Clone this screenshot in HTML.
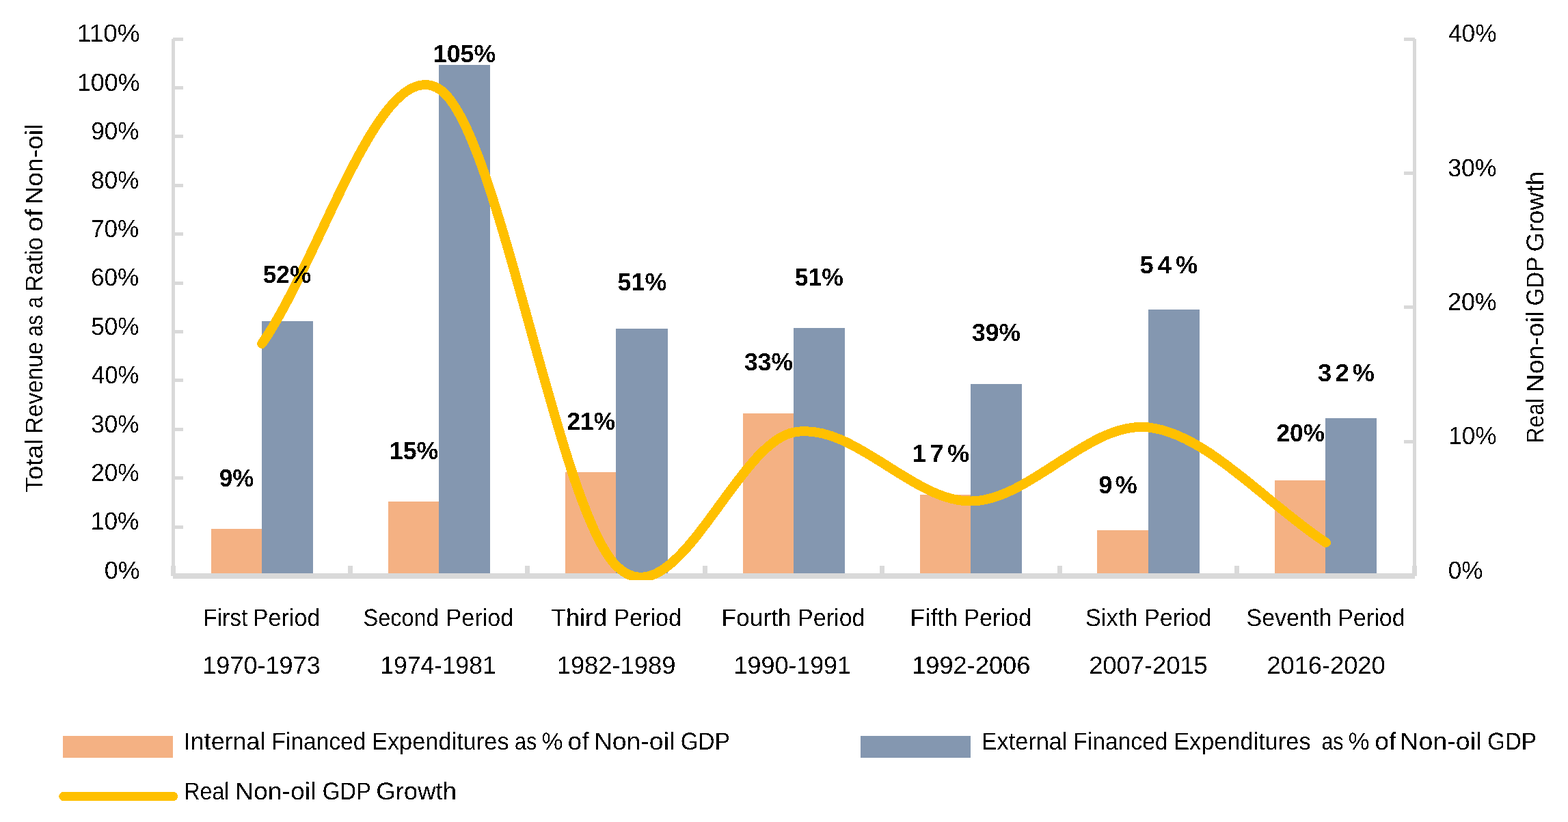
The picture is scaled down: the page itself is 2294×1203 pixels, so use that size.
<!DOCTYPE html>
<html lang="en"><head><meta charset="utf-8"><title>Financed Expenditures and Real Non-oil GDP Growth</title>
<style>
html,body{margin:0;padding:0;background:#fff;}
body{width:2294px;height:1203px;overflow:hidden;}
svg{display:block;}
text{font-family:"Liberation Sans", sans-serif;fill:#000;white-space:pre;text-rendering:geometricPrecision;}
.n{font-size:36.3px;}
.b{font-size:36.3px;font-weight:bold;}
.t{font-size:35.6px;}
</style></head><body>
<svg width="2294" height="1203" viewBox="0 0 2294 1203">
<rect width="2294" height="1203" fill="#fff"/>
<g shape-rendering="crispEdges">
<rect x="309" y="774" width="74" height="69" fill="#F4B183"/>
<rect x="383" y="470" width="75" height="373" fill="#8497B0"/>
<rect x="568" y="734" width="74" height="109" fill="#F4B183"/>
<rect x="642" y="95" width="75" height="748" fill="#8497B0"/>
<rect x="827" y="691" width="74" height="152" fill="#F4B183"/>
<rect x="901" y="481" width="76" height="362" fill="#8497B0"/>
<rect x="1087" y="605" width="74" height="238" fill="#F4B183"/>
<rect x="1161" y="480" width="75" height="363" fill="#8497B0"/>
<rect x="1346" y="724" width="74" height="119" fill="#F4B183"/>
<rect x="1420" y="562" width="75" height="281" fill="#8497B0"/>
<rect x="1605" y="776" width="75" height="67" fill="#F4B183"/>
<rect x="1680" y="453" width="75" height="390" fill="#8497B0"/>
<rect x="1865" y="703" width="74" height="140" fill="#F4B183"/>
<rect x="1939" y="612" width="75" height="231" fill="#8497B0"/>
</g>
<g fill="#D9D9D9" shape-rendering="crispEdges">
<rect x="251" y="57" width="5" height="786"/>
<rect x="253" y="840" width="15" height="5"/>
<rect x="253" y="769" width="15" height="5"/>
<rect x="253" y="697" width="15" height="5"/>
<rect x="253" y="626" width="15" height="5"/>
<rect x="253" y="554" width="15" height="5"/>
<rect x="253" y="483" width="15" height="5"/>
<rect x="253" y="412" width="15" height="5"/>
<rect x="253" y="340" width="15" height="5"/>
<rect x="253" y="269" width="15" height="5"/>
<rect x="253" y="197" width="15" height="5"/>
<rect x="253" y="126" width="15" height="5"/>
<rect x="253" y="55" width="15" height="5"/>
<rect x="2067" y="57" width="5" height="786"/>
<rect x="2054" y="840" width="16" height="5"/>
<rect x="2054" y="644" width="16" height="5"/>
<rect x="2054" y="447" width="16" height="5"/>
<rect x="2054" y="251" width="16" height="5"/>
<rect x="2054" y="55" width="16" height="5"/>
<rect x="253" y="839" width="1817" height="8"/>
<rect x="250" y="828" width="7" height="15"/>
<rect x="509" y="828" width="7" height="15"/>
<rect x="768" y="828" width="7" height="15"/>
<rect x="1028" y="828" width="7" height="15"/>
<rect x="1287" y="828" width="7" height="15"/>
<rect x="1547" y="828" width="7" height="15"/>
<rect x="1806" y="828" width="7" height="15"/>
<rect x="2066" y="828" width="7" height="15"/>
</g>
<clipPath id="plotclip"><rect x="0" y="0" width="2294" height="849"/></clipPath>
<path d="M383.2,503.0 C469.7,378.8 556.2,76.2 642.7,130.4 C729.2,184.7 815.6,744.8 902.1,828.5 C988.6,912.2 1075.1,648.4 1161.6,632.6 C1248.1,616.8 1334.5,734.7 1421.0,733.5 C1507.5,732.3 1594.0,615.4 1680.5,625.5 C1767.0,635.6 1853.5,737.9 1940.0,794.1" fill="none" stroke="#FFC000" stroke-width="14" stroke-linecap="round" stroke-linejoin="round" shape-rendering="crispEdges" clip-path="url(#plotclip)"/>
<g shape-rendering="crispEdges">
<rect x="92" y="1077" width="161" height="32" fill="#F4B183"/>
<rect x="1259" y="1077" width="161" height="32" fill="#8497B0"/>
</g>
<line x1="93" y1="1165.5" x2="253.4" y2="1165.5" stroke="#FFC000" stroke-width="13.4" stroke-linecap="round" shape-rendering="crispEdges"/>
<filter id="hard" filterUnits="userSpaceOnUse" x="0" y="0" width="2294" height="1203" color-interpolation-filters="sRGB"><feComponentTransfer><feFuncA type="discrete" tableValues="0 1"/></feComponentTransfer></filter>
<g filter="url(#hard)">
<text class="n" x="152.8" y="847" textLength="51.8" lengthAdjust="spacingAndGlyphs">0%</text>
<text class="n" x="132.8" y="775" textLength="70.7" lengthAdjust="spacingAndGlyphs">10%</text>
<text class="n" x="133.2" y="704" textLength="70.4" lengthAdjust="spacingAndGlyphs">20%</text>
<text class="n" x="133.3" y="633" textLength="70.1" lengthAdjust="spacingAndGlyphs">30%</text>
<text class="n" x="134.1" y="561" textLength="69.3" lengthAdjust="spacingAndGlyphs">40%</text>
<text class="n" x="133.2" y="490" textLength="70.1" lengthAdjust="spacingAndGlyphs">50%</text>
<text class="n" x="133.0" y="418" textLength="70.3" lengthAdjust="spacingAndGlyphs">60%</text>
<text class="n" x="133.0" y="347" textLength="70.3" lengthAdjust="spacingAndGlyphs">70%</text>
<text class="n" x="133.3" y="276" textLength="70.0" lengthAdjust="spacingAndGlyphs">80%</text>
<text class="n" x="133.2" y="204" textLength="70.2" lengthAdjust="spacingAndGlyphs">90%</text>
<text class="n" x="112.9" y="133" textLength="91.7" lengthAdjust="spacingAndGlyphs">100%</text>
<text class="n" x="112.8" y="61" textLength="91.9" lengthAdjust="spacingAndGlyphs">110%</text>
<text class="n" x="2118.7" y="847" textLength="50.7" lengthAdjust="spacingAndGlyphs">0%</text>
<text class="n" x="2119.3" y="650" textLength="70.3" lengthAdjust="spacingAndGlyphs">10%</text>
<text class="n" x="2118.0" y="454" textLength="71.7" lengthAdjust="spacingAndGlyphs">20%</text>
<text class="n" x="2118.2" y="258" textLength="71.4" lengthAdjust="spacingAndGlyphs">30%</text>
<text class="n" x="2119.0" y="61" textLength="70.6" lengthAdjust="spacingAndGlyphs">40%</text>
<text class="t" y="916"><tspan x="297.2" textLength="65.2" lengthAdjust="spacingAndGlyphs">First</tspan> <tspan x="369.8" textLength="98.6" lengthAdjust="spacingAndGlyphs">Period</tspan></text>
<text class="n" x="296.3" y="986" textLength="172.4" lengthAdjust="spacingAndGlyphs">1970-1973</text>
<text class="t" y="916"><tspan x="531.6" textLength="110.1" lengthAdjust="spacingAndGlyphs">Second</tspan> <tspan x="652.6" textLength="98.7" lengthAdjust="spacingAndGlyphs">Period</tspan></text>
<text class="n" x="556.4" y="986" textLength="169.3" lengthAdjust="spacingAndGlyphs">1974-1981</text>
<text class="t" y="916"><tspan x="806.2" textLength="81.8" lengthAdjust="spacingAndGlyphs">Third</tspan> <tspan x="898.3" textLength="98.7" lengthAdjust="spacingAndGlyphs">Period</tspan></text>
<text class="n" x="814.7" y="986" textLength="173.7" lengthAdjust="spacingAndGlyphs">1982-1989</text>
<text class="t" y="916"><tspan x="1055.4" textLength="102.3" lengthAdjust="spacingAndGlyphs">Fourth</tspan> <tspan x="1167.1" textLength="98.4" lengthAdjust="spacingAndGlyphs">Period</tspan></text>
<text class="n" x="1073.6" y="986" textLength="171.4" lengthAdjust="spacingAndGlyphs">1990-1991</text>
<text class="t" y="916"><tspan x="1331.6" textLength="69.6" lengthAdjust="spacingAndGlyphs">Fifth</tspan> <tspan x="1410.3" textLength="98.7" lengthAdjust="spacingAndGlyphs">Period</tspan></text>
<text class="n" x="1334.2" y="986" textLength="173.1" lengthAdjust="spacingAndGlyphs">1992-2006</text>
<text class="t" y="916"><tspan x="1587.8" textLength="77.0" lengthAdjust="spacingAndGlyphs">Sixth</tspan> <tspan x="1674.1" textLength="98.4" lengthAdjust="spacingAndGlyphs">Period</tspan></text>
<text class="n" x="1593.2" y="986" textLength="173.6" lengthAdjust="spacingAndGlyphs">2007-2015</text>
<text class="t" y="916"><tspan x="1823.5" textLength="124.8" lengthAdjust="spacingAndGlyphs">Seventh</tspan> <tspan x="1957.1" textLength="98.7" lengthAdjust="spacingAndGlyphs">Period</tspan></text>
<text class="n" x="1853.4" y="986" textLength="173.3" lengthAdjust="spacingAndGlyphs">2016-2020</text>
<text class="b" x="320.7" y="712" textLength="50.6" lengthAdjust="spacingAndGlyphs">9%</text>
<text class="b" x="384.8" y="414" textLength="70.4" lengthAdjust="spacingAndGlyphs">52%</text>
<text class="b" x="569.8" y="672" textLength="71.5" lengthAdjust="spacingAndGlyphs">15%</text>
<text class="b" x="633.8" y="91" textLength="91.5" lengthAdjust="spacingAndGlyphs">105%</text>
<text class="b" x="829.5" y="629" textLength="70.6" lengthAdjust="spacingAndGlyphs">21%</text>
<text class="b" x="903.6" y="425" textLength="71.9" lengthAdjust="spacingAndGlyphs">51%</text>
<text class="b" x="1089.0" y="542" textLength="71.1" lengthAdjust="spacingAndGlyphs">33%</text>
<text class="b" x="1162.7" y="418" textLength="71.3" lengthAdjust="spacingAndGlyphs">51%</text>
<text class="b" x="1335.1" y="676" textLength="83.1" lengthAdjust="spacing">17%</text>
<text class="b" x="1422.0" y="499" textLength="71.2" lengthAdjust="spacingAndGlyphs">39%</text>
<text class="b" x="1607.2" y="722" textLength="56.7" lengthAdjust="spacing">9%</text>
<text class="b" x="1667.5" y="400" textLength="84.9" lengthAdjust="spacing">54%</text>
<text class="b" x="1867.5" y="646" textLength="70.5" lengthAdjust="spacingAndGlyphs">20%</text>
<text class="b" x="1928.0" y="558" textLength="83.1" lengthAdjust="spacing">32%</text>
<text class="t" transform="translate(62,719.9) rotate(-90)"><tspan x="-0.9" textLength="78.3" lengthAdjust="spacingAndGlyphs">Total</tspan> <tspan x="85.6" textLength="134.0" lengthAdjust="spacingAndGlyphs">Revenue</tspan> <tspan x="227.4" textLength="31.6" lengthAdjust="spacingAndGlyphs">as</tspan> <tspan x="268.7" textLength="17.1" lengthAdjust="spacingAndGlyphs">a</tspan> <tspan x="293.1" textLength="79.6" lengthAdjust="spacingAndGlyphs">Ratio</tspan> <tspan x="381.0" textLength="32.7" lengthAdjust="spacingAndGlyphs">of</tspan> <tspan x="420.4" textLength="118.0" lengthAdjust="spacingAndGlyphs">Non-oil</tspan></text>
<text class="t" transform="translate(2258,645.9) rotate(-90)"><tspan x="-2.4" textLength="65.2" lengthAdjust="spacingAndGlyphs">Real</tspan> <tspan x="71.6" textLength="118.8" lengthAdjust="spacingAndGlyphs">Non-oil</tspan> <tspan x="198.6" textLength="71.1" lengthAdjust="spacingAndGlyphs">GDP</tspan> <tspan x="277.5" textLength="117.6" lengthAdjust="spacingAndGlyphs">Growth</tspan></text>
<text class="t" y="1097"><tspan x="268.8" textLength="119.6" lengthAdjust="spacingAndGlyphs">Internal</tspan> <tspan x="397.5" textLength="137.9" lengthAdjust="spacingAndGlyphs">Financed</tspan> <tspan x="544.0" textLength="200.6" lengthAdjust="spacingAndGlyphs">Expenditures</tspan> <tspan x="753.1" textLength="32.3" lengthAdjust="spacingAndGlyphs">as</tspan> <tspan x="792.4" textLength="30.9" lengthAdjust="spacingAndGlyphs">%</tspan> <tspan x="830.5" textLength="31.0" lengthAdjust="spacingAndGlyphs">of</tspan> <tspan x="868.7" textLength="118.6" lengthAdjust="spacingAndGlyphs">Non-oil</tspan> <tspan x="995.7" textLength="72.2" lengthAdjust="spacingAndGlyphs">GDP</tspan></text>
<text class="t" y="1097"><tspan x="1435.8" textLength="125.5" lengthAdjust="spacingAndGlyphs">External</tspan> <tspan x="1570.2" textLength="138.4" lengthAdjust="spacingAndGlyphs">Financed</tspan> <tspan x="1717.2" textLength="200.4" lengthAdjust="spacingAndGlyphs">Expenditures</tspan>  <tspan x="1933.4" textLength="32.1" lengthAdjust="spacingAndGlyphs">as</tspan> <tspan x="1972.6" textLength="31.0" lengthAdjust="spacingAndGlyphs">%</tspan> <tspan x="2011.2" textLength="31.2" lengthAdjust="spacingAndGlyphs">of</tspan> <tspan x="2048.2" textLength="119.3" lengthAdjust="spacingAndGlyphs">Non-oil</tspan> <tspan x="2176.2" textLength="71.7" lengthAdjust="spacingAndGlyphs">GDP</tspan></text>
<text class="t" y="1170"><tspan x="269.3" textLength="66.2" lengthAdjust="spacingAndGlyphs">Real</tspan> <tspan x="344.0" textLength="118.4" lengthAdjust="spacingAndGlyphs">Non-oil</tspan> <tspan x="471.7" textLength="70.7" lengthAdjust="spacingAndGlyphs">GDP</tspan> <tspan x="550.3" textLength="117.7" lengthAdjust="spacingAndGlyphs">Growth</tspan></text>
</g>
</svg>
</body></html>
